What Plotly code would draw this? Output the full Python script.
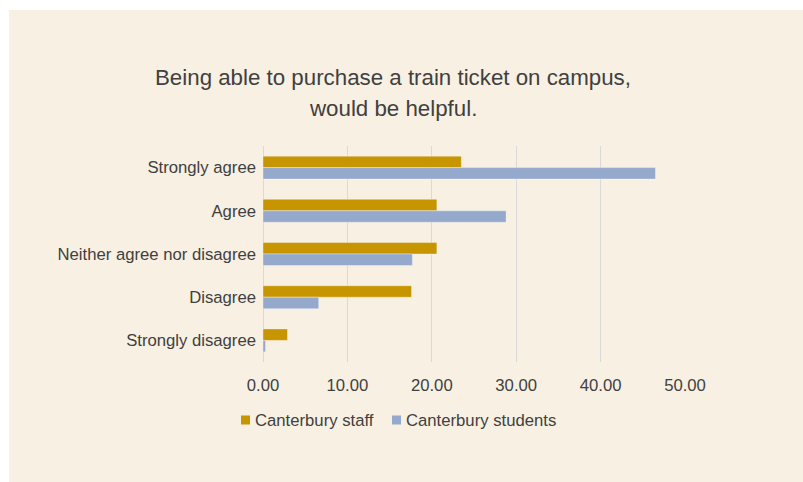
import plotly.graph_objects as go

# Survey responses (% of respondents)
categories = ["Strongly agree", "Agree", "Neither agree nor disagree", "Disagree", "Strongly disagree"]
staff = [23.5, 20.6, 20.6, 17.6, 2.9]
students = [46.5, 28.8, 17.7, 6.6, 0.3]
x_ticks = [0, 10, 20, 30, 40, 50]
x_tick_labels = ["0.00", "10.00", "20.00", "30.00", "40.00", "50.00"]
series_names = ["Canterbury staff", "Canterbury students"]
series_colors = ["#C69500", "#94A9CB"]

W, H = 803, 482
M_L, M_R, M_T, M_B = 263, 118, 146, 120
plot_w = W - M_L - M_R
plot_h = H - M_T - M_B

BG = "#F8F0E2"
TXT = "#404040"
FONT = "Liberation Sans, Arial, sans-serif"
FS = 16.7


def px_x(px):
    return (px - M_L) / plot_w


def px_y(py):
    return (H - M_B - py) / plot_h


fig = go.Figure()
for name, vals, col in zip(series_names, [staff, students], series_colors):
    fig.add_trace(go.Bar(
        y=categories, x=vals, orientation="h", name=name,
        marker=dict(color=col, line=dict(color="rgba(255,255,255,0.35)", width=1)),
    ))

# Title drawn as two centred lines
title_lines = ["Being able to purchase a train ticket on campus,", "would be helpful."]
for line, py in zip(title_lines, [77, 108]):
    fig.add_annotation(
        text=line, xref="paper", yref="paper", x=px_x(392.5), y=px_y(py),
        xanchor="center", yanchor="middle", showarrow=False,
        font=dict(family=FONT, size=22.3, color=TXT),
    )

# Compact legend below the axis: coloured square followed by the series name
legend_left = [241, 392]
for name, col, lx in zip(series_names, series_colors, legend_left):
    fig.add_shape(type="rect", xref="paper", yref="paper",
                  x0=px_x(lx), x1=px_x(lx + 9), y0=px_y(424.5), y1=px_y(415.5),
                  fillcolor=col, line=dict(width=0))
    fig.add_annotation(
        text=name, xref="paper", yref="paper", x=px_x(lx + 12), y=px_y(420),
        xanchor="left", yanchor="middle", showarrow=False,
        font=dict(family=FONT, size=FS, color=TXT),
    )

# White outer margin on the top and left of the chart panel
fig.add_shape(type="rect", xref="paper", yref="paper", layer="below",
              x0=px_x(-5), x1=px_x(W + 5), y0=px_y(10), y1=px_y(-5),
              fillcolor="white", line=dict(width=0))
fig.add_shape(type="rect", xref="paper", yref="paper", layer="below",
              x0=px_x(-5), x1=px_x(9), y0=px_y(H + 5), y1=px_y(-5),
              fillcolor="white", line=dict(width=0))

fig.update_layout(
    width=W, height=H,
    margin=dict(l=M_L, r=M_R, t=M_T, b=M_B, pad=0),
    paper_bgcolor=BG, plot_bgcolor=BG,
    barmode="group", bargap=0.47, bargroupgap=0,
    font=dict(family=FONT, size=FS, color=TXT),
    showlegend=False,
    xaxis=dict(
        range=[0, 50], tickvals=x_ticks, ticktext=x_tick_labels,
        showgrid=True, gridcolor="#D9D9D9", gridwidth=1,
        zeroline=True, zerolinecolor="#D9D9D9", zerolinewidth=1,
        showline=False, ticks="", ticklabelstandoff=11,
        tickfont=dict(family=FONT, size=FS, color=TXT), fixedrange=True,
    ),
    yaxis=dict(
        categoryorder="array", categoryarray=categories, autorange="reversed",
        showgrid=False, zeroline=False, showline=False, ticks="",
        ticklabelstandoff=6,
        tickfont=dict(family=FONT, size=FS, color=TXT), fixedrange=True,
    ),
)

fig.write_html("out.html")
